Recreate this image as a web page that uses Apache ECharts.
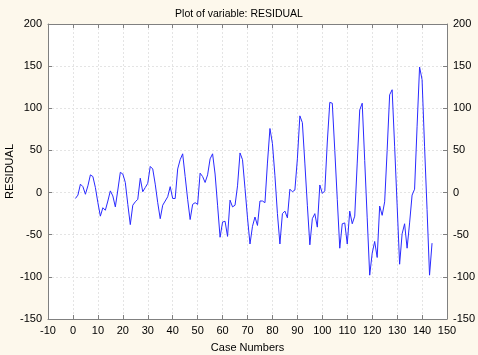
<!DOCTYPE html>
<html>
<head>
<meta charset="utf-8">
<script src="https://cdn.jsdelivr.net/npm/echarts@6/dist/echarts.min.js"></script>
<style>
html,body{margin:0;padding:0;background:#FDF8EC;}
#chart{width:478px;height:355px;}
</style>
</head>
<body>
<div id="chart"></div>
<script>
const titleText = 'Plot of variable: RESIDUAL';
const xAxisName = 'Case Numbers';
const yAxisName = 'RESIDUAL';
const xTicks = { min: -10, max: 150, interval: 10 };
const yTicks = { min: -150, max: 200, interval: 50 };
const residual = [
  -7, -3, 10, 7, -2, 8, 21, 19, 6, -12, -28, -18,
  -21, -10, 2, -4, -17, 3, 24, 22, 12, -14, -38, -15,
  -11, -8, 17, 1, 6, 11, 31, 28, 10, -12, -31, -15,
  -10, -5, 7, -7, -7, 28, 39, 46, 19, -8, -32, -14,
  -12, -14, 23, 19, 12, 21, 40, 46, 22, -15, -53, -35,
  -34, -52, -9, -17, -15, 8, 47, 39, 5, -30, -61, -40,
  -29, -39, -10, -10, -12, 35, 76, 58, 20, -25, -61, -25,
  -22, -30, 4, 1, 3, 40, 91, 83, 35, -15, -62, -31,
  -25, -41, 9, -1, 2, 60, 107, 106, 50, -8, -66, -37,
  -36, -61, -22, -37, -28, 35, 98, 106, 38, -30, -98, -72,
  -58, -77, -16, -27, -11, 50, 116, 122, 55, -15, -85, -49,
  -37, -66, -36, -3, 4, 78, 149, 134, 55, -20, -98, -60
];
const caseNumbers = residual.map((_, i) => i + 1);
const seriesData = caseNumbers.map((c, i) => [c, residual[i]]);

const font = 'Liberation Sans, Arial, sans-serif';
const axisGray = '#808080';
const chart = echarts.init(document.getElementById('chart'), null, { renderer: 'canvas' });
const yCommon = {
  type: 'value', min: yTicks.min, max: yTicks.max, interval: yTicks.interval,
  axisLine: { show: true, onZero: false, lineStyle: { color: axisGray } },
  axisTick: { show: true, inside: true, length: 4, lineStyle: { color: axisGray } },
  axisLabel: { color: '#000', fontFamily: font, fontSize: 11, margin: 6 }
};
chart.setOption({
  backgroundColor: '#FDF8EC',
  animation: false,
  title: {
    text: titleText, left: 'center', top: 4,
    textStyle: { fontFamily: font, fontSize: 10.5, fontWeight: 'normal', color: '#000' }
  },
  grid: { left: 48, right: 31, top: 24, bottom: 36, containLabel: false, outerBoundsMode: 'none',
    show: true, backgroundColor: '#ffffff', borderColor: axisGray, borderWidth: 0 },
  xAxis: [{
    type: 'value', min: xTicks.min, max: xTicks.max, interval: xTicks.interval,
    name: xAxisName, nameLocation: 'middle', nameGap: 23, nameMoveOverlap: false,
    nameTextStyle: { fontFamily: font, fontSize: 11, color: '#000' },
    axisLine: { show: true, onZero: false, lineStyle: { color: axisGray } },
    axisTick: { show: true, inside: true, length: 4, lineStyle: { color: axisGray } },
    axisLabel: { color: '#000', fontFamily: font, fontSize: 11, margin: 6 },
    splitLine: { show: true, lineStyle: { color: '#e4e4e4', type: [2, 2] } }
  }, {
    type: 'value', position: 'top', min: xTicks.min, max: xTicks.max, interval: xTicks.interval,
    axisLine: { show: true, onZero: false, lineStyle: { color: axisGray } },
    axisTick: { show: true, inside: true, length: 4, lineStyle: { color: axisGray } },
    axisLabel: { show: false }, splitLine: { show: false }
  }],
  yAxis: [Object.assign({}, yCommon, {
    position: 'left',
    name: yAxisName, nameLocation: 'middle', nameGap: 33, nameRotate: 90, nameMoveOverlap: false,
    nameTextStyle: { fontFamily: font, fontSize: 11, color: '#000' },
    splitLine: { show: true, lineStyle: { color: '#e4e4e4', type: [2, 2] } }
  }), Object.assign({}, yCommon, {
    position: 'right',
    splitLine: { show: false }
  })],
  series: [{
    type: 'line', data: seriesData, xAxisIndex: 0, yAxisIndex: 0,
    showSymbol: false, symbol: 'none',
    lineStyle: { color: '#2a2aff', width: 1 }
  }]
});
</script>
</body>
</html>
